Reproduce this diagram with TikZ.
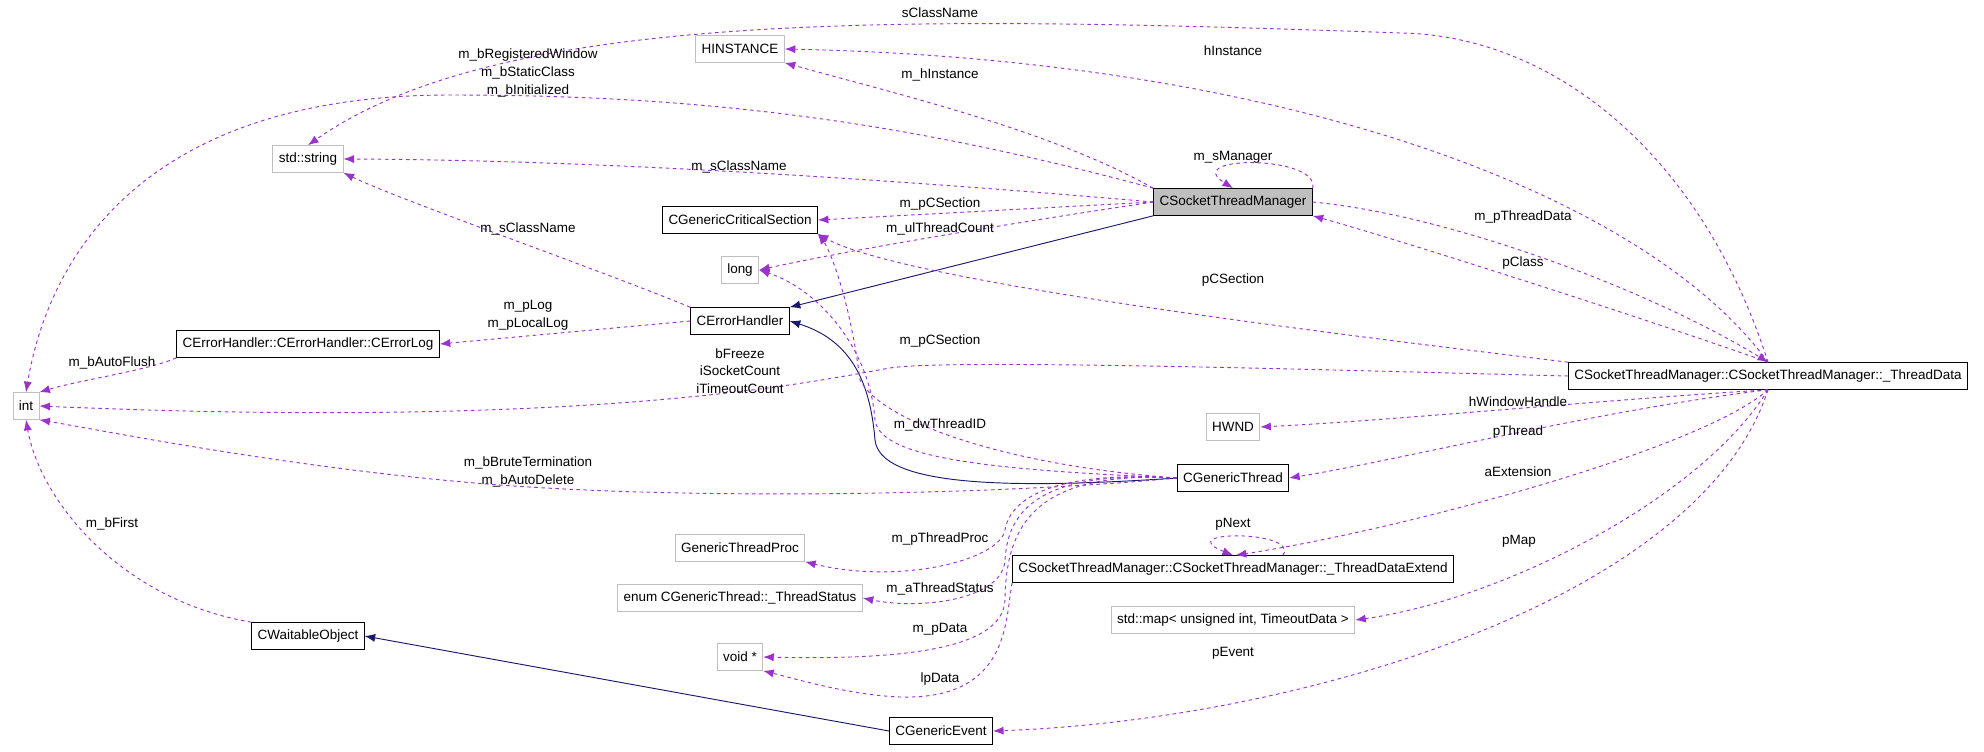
\documentclass[tikz,border=0pt]{standalone}
\usepackage{fontspec}
\setmainfont{Liberation Sans}
\usetikzlibrary{arrows.meta}
\usetikzlibrary{positioning}
\definecolor{EdgePurple}{HTML}{9A32CD}
\definecolor{EdgeNavy}{HTML}{191970}
\definecolor{GreyLine}{HTML}{BFBFBF}
\tikzset{
  cls/.style={draw=black,thick,rectangle,minimum height=0.8cm,inner xsep=5pt,font=\fontsize{11.5}{13}\selectfont},
  ext/.style={cls,draw=GreyLine},
  me/.style={cls,fill=GreyLine},
  use/.style={dashed,EdgePurple,thick,-{Latex[length=9pt,width=7pt]}},
  inh/.style={EdgeNavy,thick,-{Latex[length=9pt,width=7pt]}},
  lbl/.style={font=\fontsize{11.5}{15}\selectfont,align=center,inner sep=1pt}
}
\begin{document}
\begin{tikzpicture}[x=0.03cm,y=-0.03cm]
  \useasboundingbox (0,0) rectangle (1984,751);

  % classes
  \node[me]  (mgr)    at (1233,202) {CSocketThreadManager};
  \node[ext] (hinst)  at (740,49)   {HINSTANCE};
  \node[ext] (str)    at (308,159)  {std::string};
  \node[cls] (crit)   at (740,220)  {CGenericCriticalSection};
  \node[ext] (long)   at (740,270)  {long};
  \node[cls] (err)    at (740,321)  {CErrorHandler};
  \node[cls] (errlog) at (308,344)  {CErrorHandler::CErrorHandler::CErrorLog};
  \node[ext] (int)    at (26,406)   {int};
  \node[cls] (tdata)  at (1768,376) {CSocketThreadManager::CSocketThreadManager::\_ThreadData};
  \node[ext] (hwnd)   at (1233,427) {HWND};
  \node[cls] (thread) at (1233,478) {CGenericThread};
  \node[ext] (proc)   at (740,548)  {GenericThreadProc};
  \node[cls] (tdext)  at (1233,569) {CSocketThreadManager::CSocketThreadManager::\_ThreadDataExtend};
  \node[ext] (status) at (740,598)  {enum CGenericThread::\_ThreadStatus};
  \node[ext] (map)    at (1233,620) {std::map< unsigned int, TimeoutData >};
  \node[ext] (voidp)  at (740,657)  {void *};
  \node[cls] (wait)   at (308,636)  {CWaitableObject};
  \node[cls] (event)  at (941,731)  {CGenericEvent};

  % inheritance
  \draw[inh] (mgr.south west) -- (err.north east);
  \draw[inh] (thread.west) .. controls (1000,490) and (880,485) .. (875,440) .. controls (870,380) and (850,340) .. (err.east);
  \draw[inh] (event.west) -- (wait.east);

  % CSocketThreadManager
  \draw[use] (mgr.north west) .. controls (1050,130) and (900,95) .. (hinst.south east);
  \draw[use] (mgr.north west) .. controls (900,120) and (700,95) .. (450,95) .. controls (150,95) and (50,250) .. (int.north);
  \draw[use] (mgr.west) .. controls (900,180) and (600,160) .. (str.east);
  \draw[use] (mgr.west) -- (crit.east);
  \draw[use] (mgr.west) .. controls (1000,225) and (850,250) .. (long.east);
  \draw[use] (mgr.north east) .. controls (1320,155) and (1180,155) .. (mgr.north);
  \draw[use] (mgr.east) .. controls (1450,215) and (1650,290) .. (tdata.north);

  % _ThreadData
  \draw[use] (tdata.north) .. controls (1700,150) and (1550,35) .. (1400,33) .. controls (900,15) and (500,10) .. (str.north);
  \draw[use] (tdata.north) .. controls (1650,200) and (1300,60) .. (hinst.east);
  \draw[use] (tdata.north) .. controls (1650,320) and (1400,240) .. (mgr.south east);
  \draw[use] (tdata.north west) .. controls (1300,330) and (900,280) .. (crit.south east);
  \draw[use] (tdata.west) .. controls (1400,372) and (950,358) .. (890,368) .. controls (820,380) and (600,430) .. (int.east);
  \draw[use] (tdata.south) .. controls (1600,400) and (1400,420) .. (hwnd.east);
  \draw[use] (tdata.south) .. controls (1600,410) and (1400,460) .. (thread.east);
  \draw[use] (tdata.south) .. controls (1700,450) and (1400,530) .. (tdext.79);
  \draw[use] (tdata.south) .. controls (1700,500) and (1500,600) .. (map.east);
  \draw[use] (tdata.south) .. controls (1700,600) and (1300,720) .. (event.east);
  \draw[use] (tdext.north) ++(50,0) .. controls (1300,530) and (1170,530) .. (tdext.north);
  \draw[use] (tdext.south west) .. controls (1005,620) and (1010,700) .. (900,697) .. controls (850,695) and (800,680) .. (voidp.south east);

  % CErrorHandler and friends
  \draw[use] (err.north west) .. controls (600,270) and (400,200) .. (str.south east);
  \draw[use] (err.west) -- (errlog.east);
  \draw[use] (errlog.south west) .. controls (150,370) and (80,380) .. (int.north east);
  \draw[use] (wait.north west) .. controls (120,600) and (40,500) .. (int.south);

  % CGenericThread
  \draw[use] (thread.west) .. controls (1000,495) and (700,500) .. (500,485) .. controls (300,470) and (100,430) .. (int.south east);
  \draw[use] (thread.west) .. controls (1000,465) and (880,420) .. (860,380) .. controls (850,300) and (830,250) .. (crit.south east);
  \draw[use] (thread.west) .. controls (1000,470) and (880,460) .. (875,420) .. controls (870,350) and (820,290) .. (long.east);
  \draw[use] (thread.west) .. controls (1050,470) and (1010,500) .. (1005,530) .. controls (1000,560) and (900,585) .. (proc.south east);
  \draw[use] (thread.west) .. controls (1040,470) and (1008,510) .. (1005,560) .. controls (1003,600) and (920,610) .. (status.east);
  \draw[use] (thread.west) .. controls (1030,470) and (1006,530) .. (1005,600) .. controls (1003,650) and (900,660) .. (voidp.east);

  % member labels
  \node[lbl] (lsname)  at (940,13)   {sClassName};
  \node[lbl] (lhi)     at (1233,51)  {hInstance};
  \node[lbl] (lhinst)  at (940,75)   {m\_hInstance};
  \node[lbl] (lflags)  at (528,73)   {m\_bRegisteredWindow\\m\_bStaticClass\\m\_bInitialized};
  \node[lbl] (lscls)   at (739,167)  {m\_sClassName};
  \node[lbl] (lsmgr)   at (1233,157) {m\_sManager};
  \node[lbl] (lpcs)    at (940,204)  {m\_pCSection};
  \node[lbl] (lcount)  at (940,229)  {m\_ulThreadCount};
  \node[lbl] (ltdata)  at (1523,217) {m\_pThreadData};
  \node[lbl] (lpclass) at (1523,263) {pClass};
  \node[lbl] (lpcsec)  at (1233,280) {pCSection};
  \node[lbl] (lscn)    at (528,229)  {m\_sClassName};
  \node[lbl] (llog)    at (528,315)  {m\_pLog\\m\_pLocalLog};
  \node[lbl] (lflush)  at (112,363)  {m\_bAutoFlush};
  \node[lbl] (lcsec)   at (940,341)  {m\_pCSection};
  \node[lbl] (lfreeze) at (740,371)  {bFreeze\\iSocketCount\\iTimeoutCount};
  \node[lbl] (lhwnd)   at (1518,402) {hWindowHandle};
  \node[lbl] (lpthr)   at (1518,432) {pThread};
  \node[lbl] (laext)   at (1518,472) {aExtension};
  \node[lbl] (lpmap)   at (1519,541) {pMap};
  \node[lbl] (ltid)    at (940,425)  {m\_dwThreadID};
  \node[lbl] (lbrute)  at (528,472)  {m\_bBruteTermination\\m\_bAutoDelete};
  \node[lbl] (lfirst)  at (112,524)  {m\_bFirst};
  \node[lbl] (lpnext)  at (1233,524) {pNext};
  \node[lbl] (lproc)   at (940,539)  {m\_pThreadProc};
  \node[lbl] (lstat)   at (940,589)  {m\_aThreadStatus};
  \node[lbl] (lpdata)  at (940,629)  {m\_pData};
  \node[lbl] (lpev)    at (1233,653) {pEvent};
  \node[lbl] (llp)     at (940,679)  {lpData};
\end{tikzpicture}
\end{document}
